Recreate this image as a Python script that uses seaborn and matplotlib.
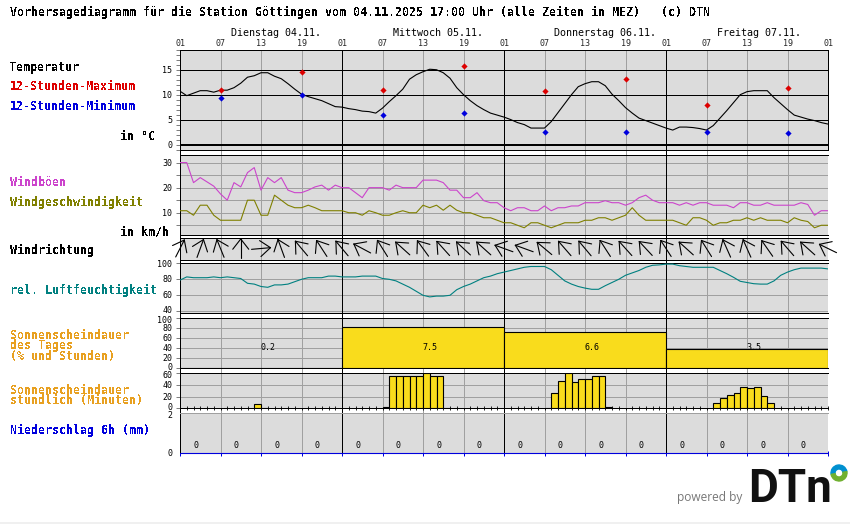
import numpy as np
import matplotlib
matplotlib.use("Agg")
import matplotlib.pyplot as plt
from matplotlib.patches import Wedge, Rectangle
import seaborn as sns

# ---------- data ----------
temperature = [10.8,9.9,10.4,10.9,10.9,10.6,11,11,11.5,12.4,13.6,13.9,14.5,14.5,13.8,13.3,12.3,11.2,10.2,9.7,9.3,8.9,8.3,7.7,
               7.6,7.3,7.1,6.8,6.7,6.4,7.4,8.7,9.9,11.2,13.2,14.1,14.7,15.2,15.1,14.5,13.4,11.5,10.1,8.9,7.9,7.1,6.4,6,
               5.6,5.1,4.5,4.1,3.4,3.4,3.4,4.7,6.5,8.3,10.1,11.7,12.3,12.7,12.7,11.9,10.2,8.9,7.5,6.4,5.4,4.9,4.4,3.9,
               3.4,3,3.6,3.6,3.5,3.3,3,3.9,5.4,6.9,8.5,10.1,10.7,10.9,10.9,10.9,9.5,8.3,7.1,6,5.6,5.2,4.9,4.5,4.2]
max_hours = [6,18,30,42,54,66,78,90]
temp_max = [11,14.6,11,15.8,10.8,13.2,8,11.4]
temp_min = [9.4,10,6,6.4,2.6,2.6,2.6,2.4]
gusts = [30,30,22,24,22.3,20.6,17.5,15,22,20.3,26,28,19,24,22,24,19,18,18,19,20.3,21,19,21,
         20,20,18,16,20,20,20,19,21,20,20,20,23,23,23,22,19,19,16,16,18,14.8,14,14,
         12,10.8,12,12,10.8,10.8,12.7,10.8,12,12,12.7,12.7,14,14,14,14.8,14,14,13,14,16,17,15,14,
         14,14,13,14,13,14,14,13,13,13,12,14,14,13,13,14,13,13,13,13,14,13.3,9,10.8,10.8]
wind_speed = [10.8,10.8,9,13,13,9,7,7,7,7,15,15,9,9,17,15,13,12,12,13,12,10.8,10.8,10.8,
              10.8,10,10,9,10.8,10,9,9,10,10.8,10,10,13,12,13,11,13,11,10,10,9,8,8,7,
              6,6,5,4,6,6,5,4,5,6,6,6,7,7,8,8,7,8,9,12,9,7,7,7,
              7,7,6,5,8,8,7,5,6,6,7,7,8,7,8,7,7,7,6,8,7,6.5,4,5,5]
wind_dir_hours = list(range(0, 97, 3))
wind_dir_deg = [27,20,-22,0,85,-20,-40,-33,-40,-62,-32,-48,-36,-42,-47,-48,-70,-70,-50,-41,-40,-33,-42,-43,-33,-48,-32,-24,-24,-35,-41,-48,-64]
humidity = [79,83,82,82,82,83,82,83,82,81,75,74,71,70,73,73,74,77,80,82,82,82,84,84,
            83,83,83,84,84,84,81,80,78,74,70,65,60,58,59,59,60,67,71,74,78,82,84,87,
            89,91,93,95,96,96,96,92,85,78,74,71,69,67.5,67.5,72,76,80,85,88,91,95,97.5,98,
            99,99,97,96,95,95,95,95,91,87,82.5,77.5,76,74.5,74,74,78,85,89,92,94,94,94,94,93]
sun_day_pct = [1.5,82,72,38]
sun_day_hours = ["0.2","7.5","6.6","3.5"]
sun_hourly = [0,0,0,0,0,0,0,0,0,0,0,8,1,0,0,0,0,0,0,0,0,0,0,0,
              0,0,0,0,0,0,3,55,55,55,55,55,60,55,55,1,0,0,0,0,0,0,0,0,
              0,0,0,0,0,0,1,26,46,60,45,51,51,55,55,3,0,0,0,0,0,0,0,0,
              0,0,0,0,0,0,0,9,17,22,26,36,34,36,21,9,0,0,0,0,0,0,0,0]
precip_6h = [0]*16
day_labels = ["Dienstag 04.11.","Mittwoch 05.11.","Donnerstag 06.11.","Freitag 07.11."]
hour_labels = ["01","07","13","19"]*4 + ["01"]
title = "Vorhersagediagramm für die Station Göttingen vom 04.11.2025 17:00 Uhr (alle Zeiten in MEZ)   (c) DTN"

# ---------- style ----------
sns.set_theme(style="white")
plt.rcParams["font.family"] = ["DejaVu Sans Mono"]
plt.rcParams["text.antialiased"] = False
plt.rcParams["lines.antialiased"] = False
plt.rcParams["patch.antialiased"] = False
BG, GRID, YEL = "#DCDCDC", "#A0A0A0", "#F9DC1C"
LW = 0.36
CURVE = 0.8
W, H = 850, 524
fig = plt.figure(figsize=(W/100, H/100), dpi=100, facecolor="white")
hours = np.arange(97)

def place(top, bot, zorder=1):
    return fig.add_axes([180/W, 1-bot/H, 648/W, (bot-top)/H], zorder=zorder)

def verticals(ax):
    for h in range(0, 97, 6):
        if h % 24 == 0:
            if 0 < h < 96:
                ax.axvline(h, color="black", lw=LW, zorder=2.5)
        else:
            ax.axvline(h, color=GRID, lw=LW, zorder=2)

def panel(top, bot, ylim, majors, minors=(), nudge=None):
    ax = place(top, bot, zorder=2)
    ax.set_facecolor(BG)
    ax.set_xlim(0, 96)
    ax.set_ylim(*ylim)
    ax.set_xticks([])
    ax.set_yticks(majors)
    ax.set_yticklabels([])
    ax.set_yticks(minors, minor=True)
    ax.tick_params(axis="y", which="both", length=2.9, width=LW, color="black", left=True)
    for s in ax.spines.values():
        s.set_linewidth(LW)
        s.set_color("black")
    ax.spines["right"].set_visible(False)
    verticals(ax)
    nudge = nudge or {}
    for v in majors:
        ax.annotate(str(v), xy=(0, v), xycoords=ax.get_yaxis_transform(),
                    xytext=(-5.6, -0.5 + nudge.get(v, 0)), textcoords="offset points",
                    ha="right", va="center", fontsize=6, color="black",
                    antialiased=True, annotation_clip=False)
    return ax

def curve(ax, y, color):
    sns.lineplot(x=hours, y=y, ax=ax, color=color, lw=CURVE, errorbar=None, legend=False, zorder=3, antialiased=True)
    ax.set_ylabel(""); ax.set_xlabel("")

def bars(ax, x, y, width):
    ax.bar(x, y, width=width, align="edge", color=YEL, edgecolor="black", lw=0.8, zorder=3, antialiased=True)

# underlay: verticals running through the white gaps
under = place(50.3, 453.3, zorder=0)
under.set_xlim(0, 96)
under.set_xticks([]); under.set_yticks([])
for s in under.spines.values():
    s.set_visible(False)
under.spines["left"].set_visible(True)
under.spines["left"].set_color("black")
under.spines["left"].set_linewidth(LW)
verticals(under)

# ---------- temperature ----------
ax = panel(50.3, 150.3, (-1.06, 19), [0,5,10,15], [m for m in range(-1,20) if m % 5])
for v in [5,10,15]:
    ax.axhline(v, color="black", lw=LW, zorder=2.6)
ax.axhline(0, color="black", lw=1.4, zorder=2.6)
ax.axvline(96, color="black", lw=LW, zorder=2.6, clip_on=False)
curve(ax, temperature, "black")
sns.scatterplot(x=max_hours, y=temp_max, ax=ax, color="#DD0000", marker="D", s=10, linewidth=0, legend=False, zorder=4)
sns.scatterplot(x=max_hours, y=temp_min, ax=ax, color="#0000DD", marker="D", s=10, linewidth=0, legend=False, zorder=4)
ax.set_ylabel(""); ax.set_xlabel("")
ax.xaxis.tick_top()
ax.set_xticks(np.arange(0, 97, 6), hour_labels)
ax.tick_params(axis="x", top=True, length=0, labelsize=6, pad=1.5)
for t in ax.get_xticklabels():
    t.set_antialiased(True)
ax.set_xlim(0, 96)

# ---------- wind ----------
ax = panel(155.3, 235.3, (1.0, 32.9), [10,20,30], [5,15,25])
for v in [5,10,15,20,25,30]:
    ax.axhline(v, color=GRID, lw=LW, zorder=1.5)
curve(ax, gusts, "#CC44CC")
curve(ax, wind_speed, "#808000")

# ---------- wind direction ----------
ax = panel(238.3, 260.3, (22, 0), [])
PX = 6.75
for h, d in zip(wind_dir_hours, wind_dir_deg):
    a = np.deg2rad(d)
    ux, uy = np.sin(a), -np.cos(a)          # pixel direction of tip (y grows downward)
    cx, cy = h, 10.2
    tipx, tipy = cx + 9.5*ux/PX, cy + 9.5*uy
    tailx, taily = cx - 9.5*ux/PX, cy - 9.5*uy
    ax.plot([tailx, tipx], [taily, tipy], color="black", lw=CURVE, clip_on=False, zorder=5, antialiased=True)
    for off in (-38, 38):
        b = a + np.pi + np.deg2rad(off)
        ax.plot([tipx, tipx + 13*np.sin(b)/PX], [tipy, tipy - 13*np.cos(b)], color="black", lw=CURVE, clip_on=False, zorder=5, antialiased=True)

# ---------- humidity ----------
ax = panel(263.3, 313.3, (37.5, 100), [40,60,80,100], nudge={40: 1.2, 100: -0.3})
for v in [40,60,80]:
    ax.axhline(v, color=GRID, lw=LW, zorder=1.5)
curve(ax, humidity, "#008080")

# ---------- daily sunshine ----------
ax = panel(318.3, 368.3, (0, 100), [0,20,40,60,80,100], nudge={100: -1.2, 0: 1.2})
for v in [20,40,60,80]:
    ax.axhline(v, color=GRID, lw=LW, zorder=1.5)
bars(ax, np.arange(4)*24, sun_day_pct, 24)
for i, s in enumerate(sun_day_hours):
    ax.text(i*24+13, 41.5, s, ha="center", va="center", fontsize=6, color="black",
            zorder=4 if sun_day_pct[i] > 41.5 else 2.8, antialiased=True)

# ---------- hourly sunshine ----------
ax = panel(373.3, 408.3, (0, 60), [0,20,40,60], nudge={60: -1.2, 0: 1.2})
for v in [20,40]:
    ax.axhline(v, color=GRID, lw=LW, zorder=1.5)
ax.set_xticks(hours)
ax.set_xticklabels([])
ax.tick_params(axis="x", bottom=True, direction="inout", length=3, width=0.6, color="black")
sun_arr = np.array(sun_hourly)
bars(ax, hours[:-1][sun_arr > 0], sun_arr[sun_arr > 0], 1)

# ---------- precipitation ----------
ax = panel(413.3, 453.3, (0, 2), [0,2], nudge={2: -1.0})
ax.tick_params(axis="y", length=0)
ax.spines["top"].set_color(GRID)
ax.spines["bottom"].set_visible(False)
ax.axhline(0, color="#0000DD", lw=0.8, zorder=5, clip_on=False, antialiased=True)
ax.set_xticks(np.arange(0, 97, 6))
ax.set_xticklabels([])
ax.tick_params(axis="x", bottom=True, direction="inout", length=3.6, width=0.72, color="#0000DD")
for i, p in enumerate(precip_6h):
    ax.text(i*6+2.3, 0.4, str(p), ha="center", va="center", fontsize=6, color="black", zorder=4, antialiased=True)

# ---------- overlay: text and logo in pixel coordinates ----------
ov = fig.add_axes([0, 0, 1, 1], zorder=10)
ov.set_xlim(0, W); ov.set_ylim(H, 0); ov.axis("off")
ov.patch.set_alpha(0)
ORANGE = "#E8A020"
def lab(x, y, s, c="black", fs=8.4, bold=True, **kw):
    ov.text(x, y, s, color=c, fontsize=fs, ha="left", va="center", fontweight="bold" if bold else "normal", **kw)
lab(10, 12, title)
for x, s in zip([231, 393, 554, 717], day_labels):
    lab(x, 33, s, fs=7.2, bold=False, antialiased=True)
lab(10, 67, "Temperatur")
lab(10, 87, "12-Stunden-Maximum", "#DD0000")
lab(10, 107, "12-Stunden-Minimum", "#0000DD")
lab(120, 137, "in °C")
lab(10, 182, "Windböen", "#CC44CC")
lab(10, 202, "Windgeschwindigkeit", "#808000")
lab(120, 232, "in km/h")
lab(10, 250, "Windrichtung")
lab(10, 290, "rel. Luftfeuchtigkeit", "#008080")
lab(10, 346, "Sonnenscheindauer\ndes Tages\n(% und Stunden)", ORANGE, linespacing=0.72)
lab(10, 395.5, "Sonnenscheindauer\nstündlich (Minuten)", ORANGE, linespacing=0.72)
lab(10, 430, "Niederschlag 6h (mm)", "#0000DD")

ov.text(677, 497, "powered by", color="#777777", fontsize=8.6, family="Open Sans", ha="left", va="center", antialiased=True)
ov.text(748, 502, "DTn", color="#111111", fontsize=33, family="Roboto", fontweight="bold", ha="left", va="baseline", antialiased=True)
ov.add_patch(Wedge((839, 473), 8, 170, 350, width=4, color="#0090D0", antialiased=True))
ov.add_patch(Wedge((839, 473), 8, 350, 170, width=4, color="#70B030", antialiased=True))
ov.add_patch(Rectangle((0, 522.5), W, 1.5, color="#F0F0F0"))

fig.savefig("out.png", dpi=100)
